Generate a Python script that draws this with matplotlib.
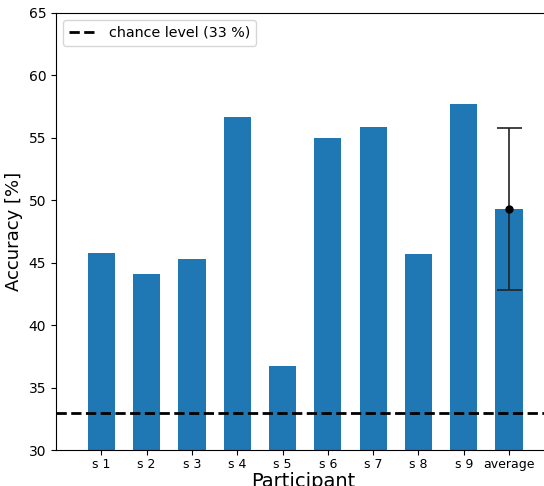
import matplotlib.pyplot as plt

# Values
participants = ["s 1", "s 2", "s 3", "s 4", "s 5", "s 6", "s 7", "s 8", "s 9"]
accuracy = [45.8, 44.1, 45.3, 56.7, 36.7, 55.0, 55.9, 45.7, 57.7]
average_acc = 49.3
average_err = 6.5
chance = 33

labels = participants + ["average"]
positions = list(range(1, len(labels) + 1))

fig = plt.figure(figsize=(5.44, 4.86), dpi=100)
# axes run past the right edge, as in the cropped reference
ax = fig.add_axes([56 / 544, 36 / 486, 521 / 544, 437 / 486])

ax.bar(positions[:-1], accuracy, width=0.6, color="#1f77b4")
ax.bar(positions[-1], average_acc, width=0.6, color="#1f77b4")
ax.errorbar(positions[-1], average_acc, yerr=average_err, fmt="o", color="black",
            ecolor="#222222", elinewidth=1.2, capsize=9, capthick=1.2, markersize=5)

ax.axhline(chance, color="black", linestyle="--", linewidth=2, label="chance level (33 %)")

ax.set_xlim(0, 11.5)
ax.set_ylim(30, 65)
ax.set_xticks(positions)
ax.set_xticklabels(labels, fontsize=9)
ax.tick_params(axis="x", pad=2)
ax.tick_params(axis="y", labelsize=10)
ax.set_ylabel("Accuracy [%]", fontsize=13)
ax.set_xlabel("Participant", fontsize=14)
ax.xaxis.set_label_coords(0.474, -0.05, transform=ax.transAxes)
ax.xaxis.label.set_va("top")

ax.legend(loc="upper left", fontsize=10.3)

fig.savefig("out.png", dpi=100)
